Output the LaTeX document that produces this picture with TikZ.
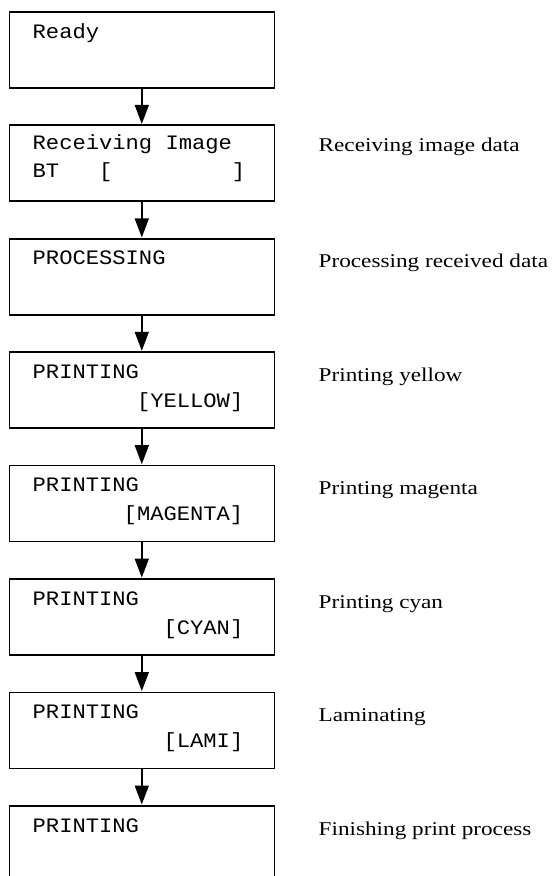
\documentclass[tikz,border=0pt]{standalone}
\usepackage{fontspec}
\usetikzlibrary{arrows.meta,calc}
\newfontfamily\lcdfont[FakeStretch=1.08]{Liberation Mono}
\newfontfamily\labelfont[FakeStretch=1.19]{Liberation Serif}
\tikzset{
  box/.style={draw, line width=1.6pt, rectangle, minimum width=265pt, minimum height=76pt, inner sep=0pt, anchor=north west},
  lcd/.style={font=\lcdfont\fontsize{20.5}{20.5}\selectfont, inner sep=0pt},
  lbl/.style={font=\labelfont\fontsize{19.5}{19.5}\selectfont, inner sep=0pt, anchor=base west},
  flow/.style={line width=1.6pt, -{Triangle[length=19pt,width=14pt]}, shorten >=0.5pt}
}
\begin{document}
\begin{tikzpicture}[x=1pt,y=-1pt]
\useasboundingbox (0,0) rectangle (557,876);
\clip (0,0) rectangle (557,876);
\foreach \i/\t in {1/11,2/124.4,3/237.9,4/351.3,5/464.7,6/578.1,7/691.6,8/805}{
  \node[box] (b\i) at (8.5,\t) {};
}
% first lines
\node[lcd, anchor=base west] (l1) at ($(b1.north west)+(24,27)$) {Ready};
\node[lcd, anchor=base west] (l2) at ($(b2.north west)+(24,25)$) {Receiving Image};
\node[lcd, anchor=base west] (l3) at ($(b3.north west)+(24,27)$) {PROCESSING};
\node[lcd, anchor=base west] (l4) at ($(b4.north west)+(24,27)$) {PRINTING};
\node[lcd, anchor=base west] (l5) at ($(b5.north west)+(24,27)$) {PRINTING};
\node[lcd, anchor=base west] (l6) at ($(b6.north west)+(24,27)$) {PRINTING};
\node[lcd, anchor=base west] (l7) at ($(b7.north west)+(24,27)$) {PRINTING};
\node[lcd, anchor=base west] (l8) at ($(b8.north west)+(24,27)$) {PRINTING};
% second lines
\node[lcd, anchor=base west] (m2) at ($(b2.north west)+(24,53)$) {BT\ \ \ [\ \ \ \ \ \ \ \ \ ]};
\node[lcd, anchor=base east] (m4) at ($(b4.north west)+(235,56)$) {[YELLOW]};
\node[lcd, anchor=base east] (m5) at ($(b5.north west)+(235,56)$) {[MAGENTA]};
\node[lcd, anchor=base east] (m6) at ($(b6.north west)+(235,56)$) {[CYAN]};
\node[lcd, anchor=base east] (m7) at ($(b7.north west)+(235,56)$) {[LAMI]};
% labels
\node[lbl] (r2) at ($(b2.north west)+(310,27)$) {Receiving image data};
\node[lbl] (r3) at ($(b3.north west)+(310,30)$) {Processing received data};
\node[lbl] (r4) at ($(b4.north west)+(310,30)$) {Printing yellow};
\node[lbl] (r5) at ($(b5.north west)+(310,30)$) {Printing magenta};
\node[lbl] (r6) at ($(b6.north west)+(310,30)$) {Printing cyan};
\node[lbl] (r7) at ($(b7.north west)+(310,30)$) {Laminating};
\node[lbl] (r8) at ($(b8.north west)+(310,30)$) {Finishing print process};
% arrows
\foreach \a/\b in {1/2,2/3,3/4,4/5,5/6,6/7,7/8}{
  \draw[flow] (b\a.south) -- (b\b.north);
}
\end{tikzpicture}
\end{document}
